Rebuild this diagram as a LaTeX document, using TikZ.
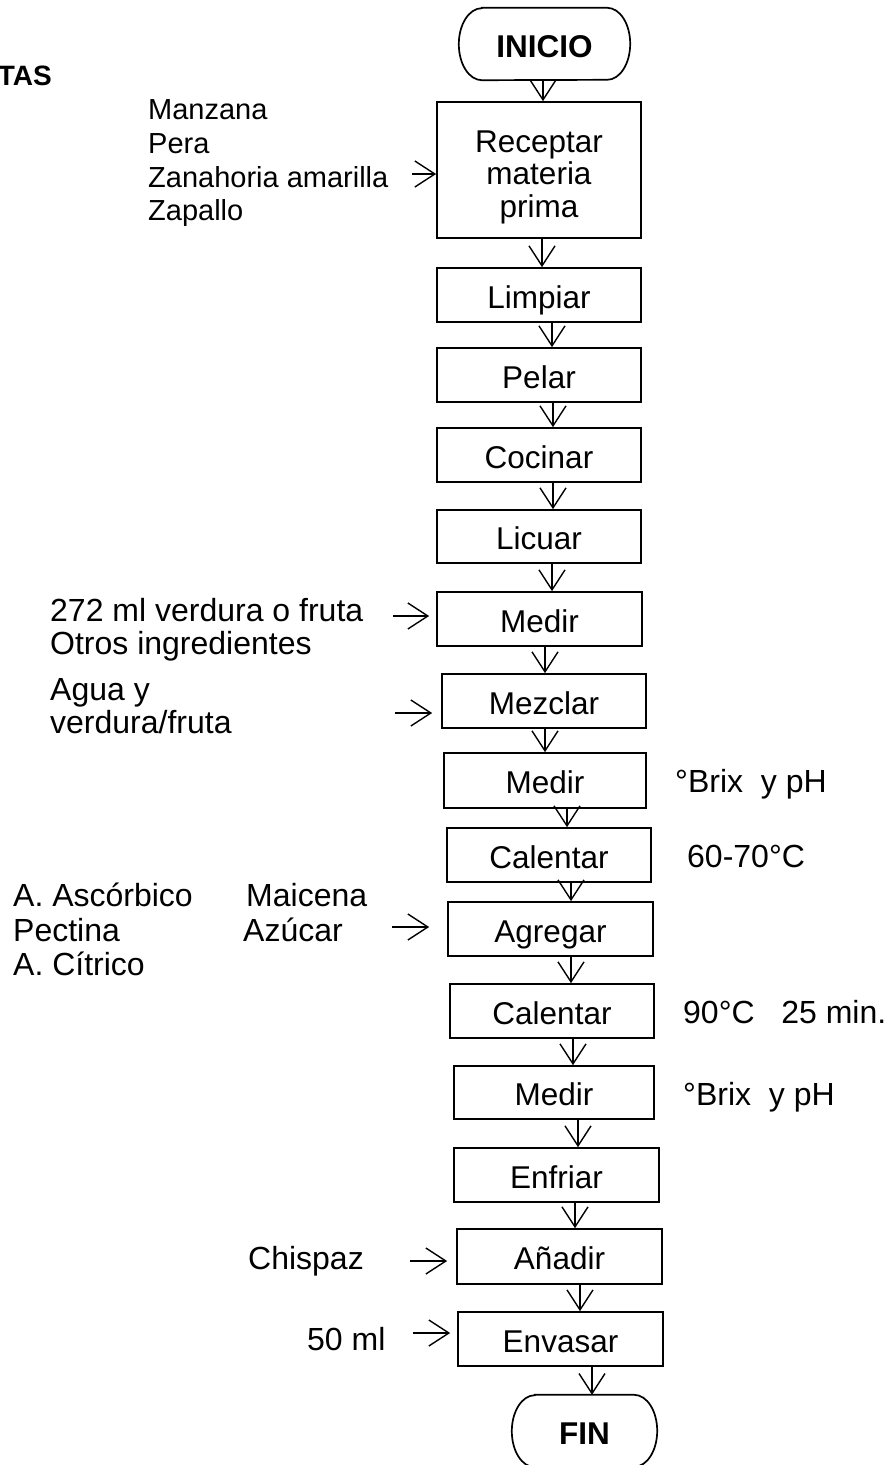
\documentclass[tikz,border=0pt]{standalone}
\usepackage{fontspec}
\setmainfont{Liberation Sans}
\usetikzlibrary{arrows.meta}
\begin{document}
\begin{tikzpicture}[x=1pt,y=1pt,
  box/.style={draw, line width=1.7pt, rectangle, inner sep=0pt,
    font=\fontsize{31.5}{33}\selectfont, text height=26pt, text depth=0pt},
  bigbox/.style={draw, line width=1.7pt, rectangle, inner sep=0pt, align=center,
    font=\fontsize{31.5}{32.5}\selectfont},
  term/.style={rectangle, inner sep=0pt, font=\fontsize{31.5}{33}\selectfont\bfseries,
    text height=27pt, text depth=0pt},
  termline/.style={draw, line width=1.7pt},
  arr/.style={line width=1.4pt, -{Straight Barb[length=20pt,width=26pt]}},
  lbl/.style={inner sep=0pt, anchor=base west, font=\fontsize{32}{34}\selectfont},
  lbls/.style={inner sep=0pt, anchor=base west, font=\fontsize{29}{34}\selectfont},
  lblb/.style={inner sep=0pt, anchor=base east, font=\fontsize{28}{34}\selectfont\bfseries}
]
\useasboundingbox (0,0) rectangle (888,-1465);

% flow nodes
\node[term, minimum width=171pt, minimum height=72pt] (n1) at (544.5,-44) {INICIO};
\node[bigbox, minimum width=204pt, minimum height=136pt] (n2) at (539,-170) {\rule{0pt}{36pt}Receptar\\materia\\prima};
\node[box, minimum width=204pt, minimum height=54pt] (n3) at (539,-295) {Limpiar};
\node[box, minimum width=204pt, minimum height=54pt] (n4) at (539,-375) {Pelar};
\node[box, minimum width=204pt, minimum height=54pt] (n5) at (539,-455) {Cocinar};
\node[box, minimum width=204pt, minimum height=53pt] (n6) at (539,-536.5) {Licuar};
\node[box, minimum width=205pt, minimum height=54pt] (n7) at (539.5,-619) {Medir};
\node[box, minimum width=204pt, minimum height=54pt] (n8) at (544,-701) {Mezclar};
\node[box, minimum width=202pt, minimum height=55pt] (n9) at (545,-780.5) {Medir};
\node[box, minimum width=204pt, minimum height=54pt] (n10) at (549,-855) {Calentar};
\node[box, minimum width=205pt, minimum height=54pt] (n11) at (550.5,-929) {Agregar};
\node[box, minimum width=204pt, minimum height=54pt] (n12) at (552,-1011) {Calentar};
\node[box, minimum width=200pt, minimum height=53pt] (n13) at (554,-1092.5) {Medir};
\node[box, minimum width=205pt, minimum height=54pt] (n14) at (556.5,-1175) {Enfriar};
\node[box, minimum width=205pt, minimum height=55pt] (n15) at (559.5,-1256.5) {Añadir};
\node[box, minimum width=205pt, minimum height=54pt] (n16) at (560.5,-1339) {Envasar};
\node[term, minimum width=145pt, minimum height=72pt] (n17) at (584.5,-1431) {FIN};

% terminal outlines
\draw[termline] ([xshift=23pt]n1.north west) -- ([xshift=-23pt]n1.north east)
  arc[start angle=90,end angle=-90,x radius=23pt,y radius=36pt]
  -- ([xshift=23pt]n1.south west)
  arc[start angle=270,end angle=90,x radius=23pt,y radius=36pt] -- cycle;
\draw[termline] ([xshift=23pt]n17.north west) -- ([xshift=-23pt]n17.north east)
  arc[start angle=90,end angle=-90,x radius=23pt,y radius=36pt]
  -- ([xshift=23pt]n17.south west)
  arc[start angle=270,end angle=90,x radius=23pt,y radius=36pt] -- cycle;

% down arrows
\draw[arr] (n1.south-|543,0) -- (n2.north-|543,0);
\draw[arr] (n2.south-|542,0) -- (n3.north-|542,0);
\draw[arr] (n3.south-|552,0) -- (n4.north-|552,0);
\draw[arr] (n4.south-|553,0) -- (n5.north-|553,0);
\draw[arr] (n5.south-|553,0) -- (n6.north-|553,0);
\draw[arr] (n6.south-|552,0) -- (n7.north-|552,0);
\draw[arr] (n7.south-|545,0) -- (n8.north-|545,0);
\draw[arr] (n8.south-|545,0) -- (n9.north-|545,0);
\draw[arr] (n9.south-|567,0) -- (n10.north-|567,0);
\draw[arr] (n10.south-|571,0) -- (n11.north-|571,0);
\draw[arr] (n11.south-|571,0) -- (n12.north-|571,0);
\draw[arr] (n12.south-|573,0) -- (n13.north-|573,0);
\draw[arr] (n13.south-|578,0) -- (n14.north-|578,0);
\draw[arr] (n14.south-|575,0) -- (n15.north-|575,0);
\draw[arr] (n15.south-|580,0) -- (n16.north-|580,0);
\draw[arr] (n16.south-|592,0) -- (n17.north-|592,0);

% side labels
\node[lblb] (tas) at (52,-85) {TAS};
\node[lbls] (m1) at (148,-119) {Manzana};
\node[lbls] (m2) at (148,-153) {Pera};
\node[lbls] (m3) at (148,-187) {Zanahoria amarilla};
\node[lbls] (m4) at (148,-220) {Zapallo};

\node[lbl] (v1) at (50,-621) {272 ml verdura o fruta};
\node[lbl] (v2) at (50,-654) {Otros ingredientes};
\node[lbl] (a1) at (50,-700) {Agua y};
\node[lbl] (a2) at (50,-733) {verdura/fruta};

\node[lbl] (q1) at (13,-906) {A. Ascórbico};
\node[lbl] (q2) at (13,-941) {Pectina};
\node[lbl] (q3) at (13,-975) {A. Cítrico};
\node[lbl] (q4) at (246,-906) {Maicena};
\node[lbl] (q5) at (243,-941) {Azúcar};

\node[lbl] (ch) at (248,-1269) {Chispaz};
\node[lbl] (ml) at (307,-1350) {50 ml};

\node[lbl] (r1) at (675,-792) {°Brix\ \ y pH};
\node[lbl] (r2) at (687,-867) {60-70°C};
\node[lbl] (r3) at (683,-1023) {90°C\ \ \ 25 min.};
\node[lbl] (r4) at (683,-1105) {°Brix\ \ y pH};

% input arrows
\coordinate (cR) at (412,-174);
\coordinate (c7) at (393,-616);
\coordinate (c8) at (395,-713);
\coordinate (c11) at (392,-927);
\coordinate (c15) at (410,-1261);
\coordinate (c16) at (413,-1333);
\draw[arr] (cR) -- (cR-|n2.west);
\draw[arr, shorten >=7pt] (c7) -- (c7-|n7.west);
\draw[arr, shorten >=9pt] (c8) -- (c8-|n8.west);
\draw[arr, shorten >=18pt] (c11) -- (c11-|n11.west);
\draw[arr, shorten >=9pt] (c15) -- (c15-|n15.west);
\draw[arr, shorten >=7pt] (c16) -- (c16-|n16.west);
\end{tikzpicture}
\end{document}
